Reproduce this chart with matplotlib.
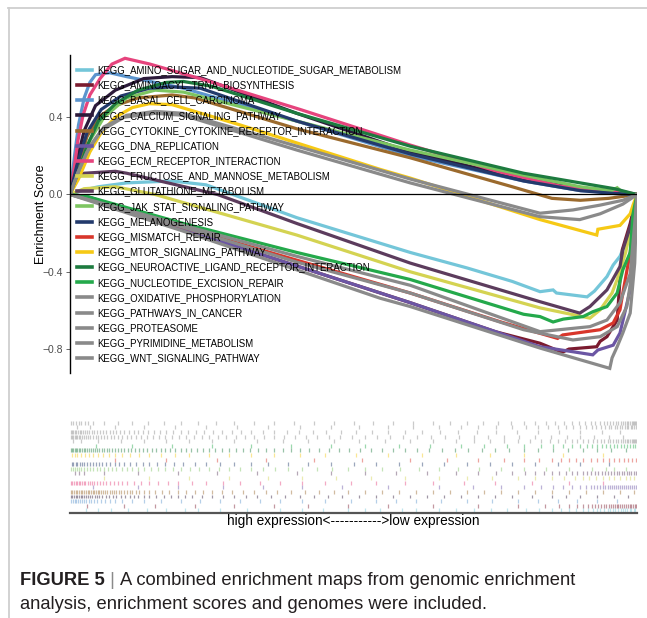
import matplotlib.pyplot as plt
from matplotlib.lines import Line2D

plt.rcParams["font.family"] = ["Liberation Sans", "DejaVu Sans"]

gene_sets = [
    "KEGG_AMINO_SUGAR_AND_NUCLEOTIDE_SUGAR_METABOLISM",
    "KEGG_AMINOACYL_TRNA_BIOSYNTHESIS",
    "KEGG_BASAL_CELL_CARCINOMA",
    "KEGG_CALCIUM_SIGNALING_PATHWAY",
    "KEGG_CYTOKINE_CYTOKINE_RECEPTOR_INTERACTION",
    "KEGG_DNA_REPLICATION",
    "KEGG_ECM_RECEPTOR_INTERACTION",
    "KEGG_FRUCTOSE_AND_MANNOSE_METABOLISM",
    "KEGG_GLUTATHIONE_METABOLISM",
    "KEGG_JAK_STAT_SIGNALING_PATHWAY",
    "KEGG_MELANOGENESIS",
    "KEGG_MISMATCH_REPAIR",
    "KEGG_MTOR_SIGNALING_PATHWAY",
    "KEGG_NEUROACTIVE_LIGAND_RECEPTOR_INTERACTION",
    "KEGG_NUCLEOTIDE_EXCISION_REPAIR",
    "KEGG_OXIDATIVE_PHOSPHORYLATION",
    "KEGG_PATHWAYS_IN_CANCER",
    "KEGG_PROTEASOME",
    "KEGG_PYRIMIDINE_METABOLISM",
    "KEGG_WNT_SIGNALING_PATHWAY",
]

set_colors = [
    "#74c6d9", "#7b1b2f", "#5c95ce", "#2c1a3a", "#9b6a2d",
    "#6b56a4", "#e6447d", "#d4d352", "#5c3c5d", "#7dc561",
    "#233a6c", "#d8362b", "#f6c915", "#1d7b3f", "#24a94b",
    "#8a8a8a", "#8a8a8a", "#8a8a8a", "#8a8a8a", "#8a8a8a",
]

# running enrichment score, (rank in list of 1000, ES)
amino_sugar_es = [(0, 0), (20, 0.02), (50, 0.04), (100, 0.06), (180, 0.07), (240, 0.05), (400, -0.12),
                  (600, -0.30), (700, -0.38), (780, -0.45), (829, -0.503), (852, -0.494), (858, -0.51),
                  (912, -0.53), (925, -0.50), (947, -0.425), (958, -0.365), (970, -0.32), (982, -0.235),
                  (993, -0.1), (1000, 0)]
aminoacyl_es = [(0, 0), (40, -0.02), (200, -0.18), (400, -0.37), (600, -0.56), (750, -0.71), (829, -0.77),
                (868, -0.817), (880, -0.80), (929, -0.788), (935, -0.76), (947, -0.736), (965, -0.65),
                (970, -0.44), (974, -0.287), (988, -0.15), (1000, 0)]
basal_es = [(0, 0), (8, 0.2), (15, 0.36), (25, 0.5), (35, 0.58), (45, 0.62), (70, 0.63), (100, 0.61),
            (150, 0.58), (200, 0.55), (400, 0.38), (600, 0.2), (800, 0.07), (900, 0.02), (960, 0.01), (1000, 0)]
calcium_es = [(0, 0), (10, 0.15), (25, 0.33), (45, 0.46), (80, 0.54), (130, 0.6), (180, 0.61), (230, 0.605),
              (400, 0.42), (600, 0.22), (800, 0.08), (900, 0.03), (960, 0.01), (1000, 0)]
cytokine_es = [(0, 0), (15, 0.15), (30, 0.3), (50, 0.4), (80, 0.46), (120, 0.5), (180, 0.515), (220, 0.5),
               (400, 0.34), (600, 0.19), (780, 0.04), (850, -0.02), (900, -0.03), (950, -0.02), (1000, 0)]
dna_replication_es = [(0, 0), (30, -0.01), (200, -0.18), (400, -0.37), (600, -0.56), (829, -0.788),
                      (887, -0.814), (922, -0.83), (931, -0.805), (958, -0.78), (970, -0.717), (988, -0.494),
                      (996, -0.18), (1000, 0)]
ecm_es = [(0, 0), (7, 0.127), (14, 0.28), (23, 0.41), (35, 0.515), (53, 0.6), (74, 0.675), (97, 0.705),
          (141, 0.675), (229, 0.6), (406, 0.44), (600, 0.256), (758, 0.116), (864, 0.044), (935, 0.023),
          (970, 0.018), (1000, 0)]
fructose_es = [(0, 0), (25, 0.03), (80, 0.04), (150, 0.0), (400, -0.21), (600, -0.40), (829, -0.587),
               (917, -0.64), (935, -0.597), (956, -0.51), (965, -0.44), (980, -0.3), (993, -0.12), (1000, 0)]
glutathione_es = [(0, 0), (10, 0.08), (25, 0.11), (80, 0.12), (100, 0.11), (260, 0.0), (400, -0.15),
                  (600, -0.355), (829, -0.555), (899, -0.614), (917, -0.58), (947, -0.494), (970, -0.373),
                  (975, -0.287), (990, -0.15), (1000, 0)]
jak_stat_es = [(0, 0), (15, 0.12), (35, 0.28), (60, 0.4), (100, 0.5), (150, 0.54), (200, 0.53), (400, 0.38),
               (600, 0.23), (800, 0.1), (900, 0.04), (955, 0.02), (965, 0.035), (975, 0.01), (1000, 0)]
melanogenesis_es = [(0, 0), (12, 0.15), (30, 0.32), (55, 0.44), (90, 0.51), (140, 0.55), (180, 0.557),
                    (230, 0.55), (400, 0.38), (600, 0.21), (800, 0.07), (900, 0.02), (960, 0.005), (1000, 0)]
mismatch_es = [(0, 0), (30, -0.02), (200, -0.17), (400, -0.34), (600, -0.51), (760, -0.66), (860, -0.745),
               (869, -0.727), (935, -0.70), (958, -0.665), (970, -0.597), (975, -0.51), (988, -0.3), (1000, 0)]
mtor_es = [(0, 0), (15, 0.08), (35, 0.22), (55, 0.32), (80, 0.4), (110, 0.45), (140, 0.47), (180, 0.465),
           (300, 0.36), (547, 0.13), (600, 0.085), (829, -0.13), (929, -0.21), (931, -0.18), (970, -0.16),
           (988, -0.10), (993, -0.055), (1000, 0)]
neuroactive_es = [(0, 0), (15, 0.12), (30, 0.25), (50, 0.38), (80, 0.47), (120, 0.54), (170, 0.58),
                  (200, 0.585), (250, 0.56), (400, 0.42), (600, 0.25), (800, 0.11), (900, 0.06), (960, 0.03),
                  (1000, 0)]
nucleotide_es = [(0, 0), (30, -0.01), (200, -0.15), (400, -0.30), (600, -0.44), (800, -0.62), (829, -0.632),
                 (852, -0.66), (870, -0.645), (905, -0.632), (922, -0.607), (947, -0.58), (965, -0.51),
                 (975, -0.39), (988, -0.30), (993, -0.1), (1000, 0)]
oxidative_es = [(0, 0), (200, -0.16), (400, -0.32), (600, -0.47), (829, -0.71), (917, -0.684),
                (947, -0.65), (970, -0.56), (988, -0.41), (996, -0.15), (1000, 0)]
pathways_cancer_es = [(0, 0), (15, 0.12), (35, 0.25), (60, 0.35), (100, 0.41), (150, 0.43), (200, 0.42),
                      (400, 0.25), (600, 0.08), (829, -0.097), (887, -0.08), (935, -0.055), (975, -0.03),
                      (1000, 0)]
proteasome_es = [(0, 0), (12, 0.1), (30, 0.22), (55, 0.33), (95, 0.40), (150, 0.42), (200, 0.41),
                 (400, 0.23), (600, 0.06), (829, -0.115), (899, -0.13), (935, -0.10), (975, -0.05), (1000, 0)]
pyrimidine_es = [(0, 0), (200, -0.17), (400, -0.35), (600, -0.51), (800, -0.70), (887, -0.753),
                 (935, -0.736), (965, -0.684), (982, -0.58), (993, -0.373), (1000, 0)]
wnt_es = [(0, 0), (200, -0.19), (400, -0.39), (547, -0.537), (600, -0.58), (829, -0.795), (952, -0.90),
          (956, -0.846), (965, -0.788), (975, -0.717), (988, -0.614), (996, -0.355), (1000, 0)]

# ranks of the member genes of each set
amino_sugar_hits = [28, 50, 73, 102, 135, 170, 203, 226, 265, 312, 370, 410, 447, 490, 520, 547, 585, 610,
                    650, 680, 712, 742, 770, 805, 828, 850, 866, 880, 893, 905, 914, 922, 929, 935, 941, 948,
                    953, 958, 962, 966, 971, 975, 979, 983, 987, 990, 994, 997]
aminoacyl_hits = [30, 95, 150, 220, 290, 360, 420, 490, 560, 640, 720, 790, 838, 862, 880, 895, 905, 913,
                  920, 926, 932, 937, 941, 946, 950, 954, 957, 961, 964, 967, 970, 974, 977, 981, 984, 987,
                  990, 993, 996, 999]
basal_hits = [2, 5, 8, 11, 14, 18, 22, 25, 29, 33, 37, 42, 48, 55, 62, 70, 80, 92, 110, 130, 160, 195, 230,
              265, 300, 335, 370, 410, 450, 495, 540, 575, 610, 655, 700, 745, 790, 825, 860, 895, 930, 965]
calcium_hits = [1, 4, 7, 10, 13, 16, 19, 22, 25, 28, 32, 35, 39, 44, 48, 52, 57, 63, 69, 75, 82, 90, 97,
                105, 112, 120, 130, 140, 152, 165, 178, 190, 203, 215, 232, 250, 270, 290, 310, 330, 355,
                380, 405, 430, 455, 480, 510, 540, 570, 600, 630, 660, 690, 720, 750, 780, 815, 850, 875,
                900, 930, 960, 985]
cytokine_hits = [1, 4, 7, 10, 13, 16, 19, 22, 25, 28, 31, 34, 37, 40, 43, 46, 49, 52, 55, 58, 62, 66, 70,
                 74, 78, 82, 86, 90, 95, 100, 105, 110, 116, 122, 130, 140, 150, 162, 175, 190, 205, 220,
                 235, 250, 268, 285, 305, 325, 345, 365, 390, 415, 440, 465, 490, 520, 550, 580, 610, 640,
                 670, 700, 730, 760, 790, 820, 850, 880, 910, 940, 970, 995]
dna_replication_hits = [40, 120, 190, 270, 340, 410, 480, 560, 650, 710, 760, 800, 830, 852, 870, 886, 900,
                        910, 918, 925, 930, 935, 940, 944, 948, 952, 956, 960, 963, 967, 970, 974, 977, 980,
                        984, 987, 991, 994, 998]
ecm_hits = [1, 4, 7, 10, 12, 15, 18, 21, 24, 27, 31, 35, 39, 43, 48, 53, 58, 64, 70, 77, 84, 92, 100, 112,
            125, 140, 155, 172, 190, 215, 240, 270, 300, 335, 370, 410, 450, 495, 540, 590, 640, 695, 750,
            815, 880, 940]
fructose_hits = [60, 140, 210, 280, 350, 410, 470, 530, 590, 650, 700, 745, 790, 820, 850, 872, 890, 905,
                 915, 928, 940, 950, 960, 970, 980, 988, 995]
glutathione_hits = [8, 16, 25, 60, 120, 190, 260, 330, 400, 460, 520, 575, 630, 680, 720, 752, 780, 802,
                    820, 836, 850, 863, 875, 885, 895, 904, 912, 919, 926, 932, 938, 944, 949, 954, 959,
                    964, 968, 973, 977, 982, 986, 990, 994, 998]
jak_stat_hits = [2, 5, 9, 12, 16, 20, 25, 30, 35, 41, 47, 53, 60, 67, 74, 82, 91, 100, 110, 120, 131, 142,
                 155, 168, 182, 196, 212, 228, 245, 262, 280, 300, 320, 340, 362, 385, 410, 435, 462, 490,
                 520, 550, 582, 615, 650, 685, 722, 760, 800, 840, 880, 920, 945, 960, 980]
melanogenesis_hits = [3, 6, 10, 13, 17, 21, 25, 30, 35, 40, 45, 51, 57, 64, 71, 79, 87, 96, 106, 116, 128,
                      140, 154, 168, 184, 200, 220, 240, 265, 290, 320, 350, 385, 420, 460, 500, 540, 580,
                      620, 660, 700, 740, 780, 820, 860, 900, 950]
mismatch_hits = [80, 170, 260, 345, 430, 515, 600, 665, 720, 765, 800, 828, 850, 866, 880, 893, 905, 918,
                 930, 940, 950, 959, 968, 977, 985, 992, 998]
mtor_hits = [3, 8, 13, 19, 26, 33, 41, 49, 58, 68, 80, 92, 106, 122, 140, 160, 185, 210, 245, 280, 320,
             360, 405, 450, 505, 560, 620, 680, 740, 800, 870, 940]
neuroactive_hits = [1, 3, 6, 8, 11, 13, 16, 18, 21, 24, 27, 30, 33, 37, 40, 44, 48, 52, 56, 60, 65, 69, 74,
                    79, 84, 90, 96, 102, 108, 115, 122, 129, 136, 144, 152, 160, 168, 177, 186, 195, 204,
                    214, 224, 234, 245, 256, 268, 280, 292, 305, 318, 332, 346, 360, 375, 390, 406, 422,
                    439, 456, 474, 492, 511, 530, 550, 570, 591, 612, 634, 656, 679, 702, 726, 750, 775,
                    800, 826, 852, 878, 905, 930, 955, 980]
nucleotide_hits = [45, 110, 180, 250, 320, 390, 460, 520, 580, 635, 690, 730, 770, 800, 830, 852, 870, 886,
                   900, 911, 920, 929, 938, 945, 952, 959, 965, 971, 977, 983, 988, 993, 997]
oxidative_hits = [5, 20, 50, 90, 130, 170, 210, 250, 290, 330, 375, 420, 465, 510, 555, 600, 640, 680, 712,
                  740, 766, 790, 811, 830, 846, 860, 873, 885, 895, 905, 914, 922, 929, 936, 942, 948, 953,
                  958, 963, 967, 971, 975, 979, 982, 985, 988, 991, 993, 995, 997, 999]
pathways_cancer_hits = [1, 3, 5, 8, 10, 12, 15, 18, 21, 24, 28, 32, 36, 40, 45, 50, 55, 60, 66, 72, 78, 85,
                        92, 100, 108, 117, 126, 136, 146, 157, 168, 180, 192, 205, 218, 232, 246, 261, 276,
                        292, 308, 325, 342, 360, 378, 397, 416, 436, 456, 477, 498, 520, 542, 565, 588, 612,
                        636, 661, 686, 712, 738, 765, 792, 820, 848, 876, 900, 925, 950, 975]
proteasome_hits = [1, 4, 6, 8, 11, 14, 17, 20, 23, 26, 30, 34, 38, 43, 48, 53, 58, 64, 70, 76, 82, 89, 96,
                   104, 112, 120, 129, 138, 148, 158, 170, 182, 195, 208, 222, 236, 252, 268, 285, 302, 320,
                   340, 360, 382, 404, 428, 452, 478, 505, 532, 560, 590, 620, 652, 685, 718, 752, 788, 825,
                   862, 900, 938, 970]
pyrimidine_hits = [12, 35, 80, 130, 185, 240, 295, 350, 405, 460, 510, 560, 605, 650, 690, 720, 752, 780,
                   804, 825, 843, 860, 875, 888, 900, 910, 920, 928, 936, 943, 950, 955, 961, 965, 970, 974,
                   978, 982, 985, 989, 992, 995, 998]
wnt_hits = [2, 6, 10, 15, 20, 26, 32, 40, 60, 85, 110, 138, 165, 195, 225, 258, 290, 325, 360, 395, 430,
            465, 500, 535, 570, 605, 640, 670, 700, 728, 755, 778, 800, 820, 840, 856, 872, 886, 898, 908,
            918, 926, 934, 941, 947, 953, 958, 963, 967, 971, 975, 979, 982, 985, 988, 991, 993, 995, 997,
            999]

running_scores = [amino_sugar_es, aminoacyl_es, basal_es, calcium_es, cytokine_es, dna_replication_es,
                  ecm_es, fructose_es, glutathione_es, jak_stat_es, melanogenesis_es, mismatch_es, mtor_es,
                  neuroactive_es, nucleotide_es, oxidative_es, pathways_cancer_es, proteasome_es,
                  pyrimidine_es, wnt_es]
hit_ranks = [amino_sugar_hits, aminoacyl_hits, basal_hits, calcium_hits, cytokine_hits, dna_replication_hits,
             ecm_hits, fructose_hits, glutathione_hits, jak_stat_hits, melanogenesis_hits, mismatch_hits,
             mtor_hits, neuroactive_hits, nucleotide_hits, oxidative_hits, pathways_cancer_hits,
             proteasome_hits, pyrimidine_hits, wnt_hits]

W, H = 647, 618
fig = plt.figure(figsize=(W / 100, H / 100), dpi=100)

# page frame
fig.add_artist(Line2D([8 / W, 1], [1 - 8 / H, 1 - 8 / H], transform=fig.transFigure, color="#cfcfcf", lw=1.3))
fig.add_artist(Line2D([9 / W, 9 / W], [0, 1 - 8 / H], transform=fig.transFigure, color="#cfcfcf", lw=1.3))

# running score panel
ax = fig.add_axes([70 / W, 1 - 373 / H, 567 / W, 318 / H])
for name, pts, col in zip(gene_sets, running_scores, set_colors):
    ranks = [p[0] for p in pts]
    es = [p[1] for p in pts]
    ax.plot(ranks, es, color=col, lw=2.3, label=name, solid_joinstyle="miter")
ax.axhline(0, color="black", lw=0.9, zorder=3)
ax.set_xlim(0, 1000)
ax.set_ylim(-0.924, 0.722)
ax.set_yticks([-0.8, -0.4, 0.0, 0.4])
ax.set_yticklabels(["\u22120.8", "\u22120.4", "0.0", "0.4"])
ax.set_xticks([])
ax.tick_params(axis="y", length=3, width=0.6, colors="#4d4d4d", labelsize=7.5, pad=2)
for s in ["top", "right", "bottom"]:
    ax.spines[s].set_visible(False)
ax.spines["left"].set_linewidth(1.0)
ax.set_ylabel("Enrichment Score", fontsize=9, labelpad=-3)

leg = ax.legend(loc="upper left", bbox_to_anchor=(0.0123, 0.968), frameon=False, fontsize=6.9,
                handlelength=1.57, handletextpad=0.55, labelspacing=0.54, borderaxespad=0, borderpad=0)
for h in leg.get_lines():
    h.set_linewidth(2.6)

# gene hit barcode panel
axb = fig.add_axes([70 / W, 1 - 513 / H, 567 / W, 95 / H])
n = len(gene_sets)
for i, (hits, col) in enumerate(zip(hit_ranks, set_colors)):
    axb.vlines(hits, i + 0.15, i + 1.0, color=col, lw=0.9, alpha=0.45)
axb.set_xlim(0, 1000)
axb.set_ylim(0, n + 0.6)
axb.set_xticks([])
axb.set_yticks([])
for s in ["top", "right", "left"]:
    axb.spines[s].set_visible(False)
axb.spines["bottom"].set_color("#555555")
axb.spines["bottom"].set_linewidth(1.6)

fig.text(353.5 / W, 1 - 521 / H, "high expression<----------->low expression", ha="center", va="center",
         fontsize=9.8)

# caption
fig.canvas.draw()
renderer = fig.canvas.get_renderer()
cap_size = 13.2
t1 = fig.text(20 / W, 1 - 585 / H, "FIGURE 5", fontsize=cap_size, fontweight="bold", color="#231f20",
              va="baseline")
bb = t1.get_window_extent(renderer)
fig.text(bb.x1 / W, 1 - 585 / H, " | ", fontsize=cap_size, color="#8a8a8a", va="baseline")
bb2 = fig.texts[-1].get_window_extent(renderer)
fig.text(bb2.x1 / W, 1 - 585 / H, "A combined enrichment maps from genomic enrichment", fontsize=cap_size,
         color="#231f20", va="baseline")
fig.text(20 / W, 1 - 609 / H, "analysis, enrichment scores and genomes were included.", fontsize=cap_size,
         color="#231f20", va="baseline")

fig.savefig("out.png", dpi=100)
